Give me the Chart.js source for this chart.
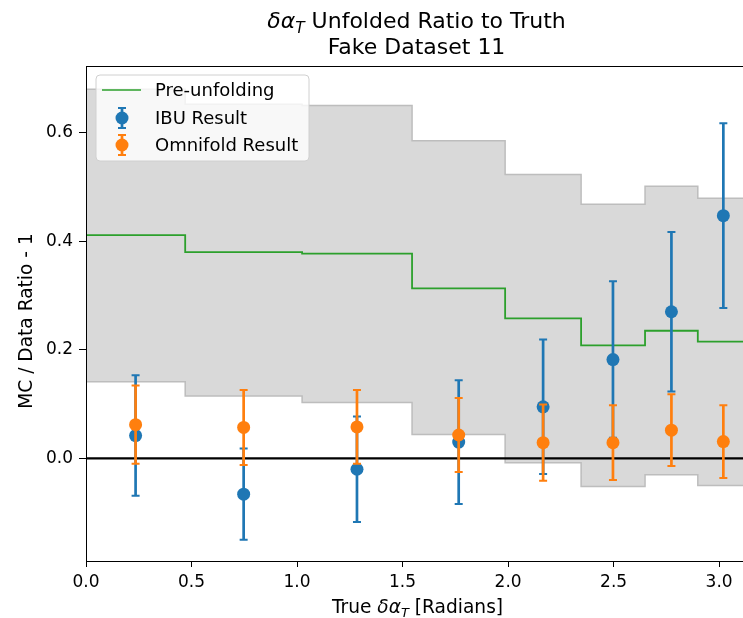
<!DOCTYPE html>
<html>
<head>
<meta charset="utf-8">
<script src="https://cdn.jsdelivr.net/npm/chart.js@4.4.0/dist/chart.umd.min.js"></script>
<style>
  html, body { margin: 0; padding: 0; background: #fff; overflow: hidden; }
  #wrap { position: relative; width: 760px; height: 618px; }
</style>
</head>
<body>
<div id="wrap"><canvas id="ratioChart"></canvas></div>
<script>
// bin edges and centres (true delta alpha_T, radians)
const binEdges = [0, 0.47, 1.024, 1.545, 1.986, 2.346, 2.649, 2.899, Math.PI];
const binCenters = [0.235, 0.747, 1.284, 1.766, 2.166, 2.497, 2.774, 3.020];

// MC / data ratio - 1
const preUnfolding = [0.411, 0.380, 0.377, 0.313, 0.258, 0.208, 0.235, 0.215];
const bandUpper = [0.680, 0.652, 0.650, 0.585, 0.523, 0.468, 0.501, 0.479];
const bandLower = [0.141, 0.115, 0.103, 0.044, -0.008, -0.052, -0.030, -0.050];

const ibuValues = [0.042, -0.066, -0.020, 0.030, 0.095, 0.182, 0.270, 0.447];
const ibuErrors = [0.111, 0.084, 0.097, 0.114, 0.124, 0.144, 0.147, 0.170];
const omniValues = [0.062, 0.057, 0.058, 0.043, 0.029, 0.029, 0.052, 0.031];
const omniErrors = [0.072, 0.069, 0.068, 0.068, 0.070, 0.069, 0.066, 0.067];

const zeroLevel = 0;
const xTicks = [0.0, 0.5, 1.0, 1.5, 2.0, 2.5, 3.0];
const yTicks = [0.0, 0.2, 0.4, 0.6];
const yRange = [-0.189, 0.7226];

const FONT = '"DejaVu Sans", sans-serif';

// step helper: value of bin i held from edge i to edge i+1
function stepPoints(vals) {
    const pts = vals.map((v, i) => ({ x: binEdges[i], y: v }));
    pts.push({ x: binEdges[binEdges.length - 1], y: vals[vals.length - 1] });
    return pts;
}

// draws error bars under each dataset's markers
const errorBars = {
    id: 'errorBars',
    beforeDatasetDraw(chart, args) {
        const ds = chart.data.datasets[args.index];
        if (!ds.errors) return;
        const ctx = chart.ctx, xs = chart.scales.x, ys = chart.scales.y, a = chart.chartArea;
        ctx.save();
        ctx.beginPath();
        ctx.rect(a.left, a.top, a.right - a.left, a.bottom - a.top);
        ctx.clip();
        ctx.strokeStyle = ds.backgroundColor;
        ds.data.forEach((p, i) => {
            const x = xs.getPixelForValue(p.x);
            const yTop = ys.getPixelForValue(p.y + ds.errors[i]);
            const yBot = ys.getPixelForValue(p.y - ds.errors[i]);
            ctx.lineWidth = 2.7;
            ctx.beginPath();
            ctx.moveTo(x, yTop); ctx.lineTo(x, yBot);
            ctx.stroke();
            ctx.lineWidth = 2;
            ctx.beginPath();
            ctx.moveTo(x - 4, yTop); ctx.lineTo(x + 4, yTop);
            ctx.moveTo(x - 4, yBot); ctx.lineTo(x + 4, yBot);
            ctx.stroke();
        });
        ctx.restore();
    }
};

// mixed text pieces: [text, italic, subscript]
function drawRich(ctx, parts, cx, y, size) {
    const fontFor = p => (p[1] ? 'italic ' : '') + (p[2] ? size * 0.7 : size) + 'px ' + FONT;
    let total = 0;
    parts.forEach(p => { ctx.font = fontFor(p); total += ctx.measureText(p[0]).width; });
    let x = cx - total / 2;
    ctx.textAlign = 'left';
    ctx.textBaseline = 'alphabetic';
    parts.forEach(p => {
        ctx.font = fontFor(p);
        ctx.fillText(p[0], x, p[2] ? y + size * 0.22 : y);
        x += ctx.measureText(p[0]).width;
    });
}

const decorations = {
    id: 'decorations',
    afterDraw(chart) {
        const ctx = chart.ctx, a = chart.chartArea;
        const cx = (a.left + a.right) / 2;
        ctx.save();
        ctx.fillStyle = '#000';

        // frame (top / right)
        ctx.strokeStyle = '#000';
        ctx.lineWidth = 1;
        ctx.strokeRect(a.left + 0.5, a.top + 0.5, a.right - a.left, a.bottom - a.top);

        // title
        drawRich(ctx, [['δα', true, false], ['T', true, true], [' Unfolded Ratio to Truth', false, false]], cx - 1, 28, 22);
        drawRich(ctx, [['Fake Dataset 11', false, false]], cx - 1, 54, 22);

        // axis titles
        drawRich(ctx, [['True ', false, false], ['δα', true, false], ['T', true, true], [' [Radians]', false, false]], cx, 613, 18.6);
        ctx.save();
        ctx.translate(32, 321);
        ctx.rotate(-Math.PI / 2);
        drawRich(ctx, [['MC / Data Ratio - 1', false, false]], 0, 0, 18.6);
        ctx.restore();

        // legend
        const lx = 96, ly = 75, lw = 213, lh = 86;
        ctx.beginPath();
        ctx.roundRect(lx, ly, lw, lh, 4);
        ctx.fillStyle = 'rgba(255,255,255,0.8)';
        ctx.fill();
        ctx.strokeStyle = '#d0d0d0';
        ctx.lineWidth = 1;
        ctx.stroke();

        const ds = chart.data.datasets;
        const rows = [
            { label: ds[2].label, color: ds[2].borderColor, kind: 'line', y: 90 },
            { label: ds[4].label, color: ds[4].backgroundColor, kind: 'err', y: 118 },
            { label: ds[5].label, color: ds[5].backgroundColor, kind: 'err', y: 145 }
        ];
        rows.forEach(r => {
            ctx.strokeStyle = r.color;
            ctx.fillStyle = r.color;
            if (r.kind === 'line') {
                ctx.lineWidth = 1.5;
                ctx.beginPath();
                ctx.moveTo(102, r.y); ctx.lineTo(141, r.y);
                ctx.stroke();
            } else {
                const mx = 122;
                ctx.lineWidth = 2.7;
                ctx.beginPath();
                ctx.moveTo(mx, r.y - 10); ctx.lineTo(mx, r.y + 10);
                ctx.stroke();
                ctx.lineWidth = 2;
                ctx.beginPath();
                ctx.moveTo(mx - 4, r.y - 10); ctx.lineTo(mx + 4, r.y - 10);
                ctx.moveTo(mx - 4, r.y + 10); ctx.lineTo(mx + 4, r.y + 10);
                ctx.stroke();
                ctx.beginPath();
                ctx.arc(mx, r.y, 6.5, 0, Math.PI * 2);
                ctx.fill();
            }
            ctx.fillStyle = '#000';
            ctx.font = '18px ' + FONT;
            ctx.textAlign = 'left';
            ctx.textBaseline = 'middle';
            ctx.fillText(r.label, 155, r.y + 1);
        });
        ctx.restore();
    }
};

Chart.defaults.color = '#000';
Chart.defaults.font.family = FONT;

new Chart(document.getElementById('ratioChart'), {
    type: 'line',
    data: {
        datasets: [
            {
                label: 'band upper',
                data: stepPoints(bandUpper),
                stepped: 'before',
                borderColor: '#bdbdbd',
                borderWidth: 1.5,
                backgroundColor: '#d9d9d9',
                fill: '+1',
                pointRadius: 0,
                order: 6
            },
            {
                label: 'band lower',
                data: stepPoints(bandLower),
                stepped: 'before',
                borderColor: '#bdbdbd',
                borderWidth: 1.5,
                fill: false,
                pointRadius: 0,
                order: 5
            },
            {
                label: 'Pre-unfolding',
                data: stepPoints(preUnfolding),
                stepped: 'before',
                borderColor: '#2ca02c',
                borderWidth: 1.8,
                fill: false,
                pointRadius: 0,
                order: 4
            },
            {
                label: 'zero',
                data: [{ x: binEdges[0], y: zeroLevel }, { x: binEdges[binEdges.length - 1], y: zeroLevel }],
                borderColor: '#000',
                borderWidth: 2.2,
                fill: false,
                pointRadius: 0,
                order: 3
            },
            {
                label: 'IBU Result',
                data: binCenters.map((x, i) => ({ x: x, y: ibuValues[i] })),
                errors: ibuErrors,
                showLine: false,
                backgroundColor: '#1f77b4',
                borderColor: '#1f77b4',
                pointRadius: 6.5,
                pointBorderWidth: 0,
                order: 2
            },
            {
                label: 'Omnifold Result',
                data: binCenters.map((x, i) => ({ x: x, y: omniValues[i] })),
                errors: omniErrors,
                showLine: false,
                backgroundColor: '#ff7f0e',
                borderColor: '#ff7f0e',
                pointRadius: 6.5,
                pointBorderWidth: 0,
                order: 1
            }
        ]
    },
    options: {
        responsive: true,
        maintainAspectRatio: false,
        animation: false,
        layout: { padding: { top: 66, right: 11, left: 0, bottom: 0 } },
        plugins: {
            legend: { display: false },
            title: { display: false },
            tooltip: { enabled: false }
        },
        scales: {
            x: {
                type: 'linear',
                min: binEdges[0],
                max: binEdges[binEdges.length - 1],
                afterBuildTicks: s => { s.ticks = xTicks.map(v => ({ value: v })); },
                afterFit: s => { s.height = 57; },
                ticks: { font: { size: 17 }, padding: 5, callback: v => v.toFixed(1) },
                grid: { drawOnChartArea: false, tickLength: 6, tickColor: '#000', tickWidth: 1 },
                border: { color: '#000', width: 1 }
            },
            y: {
                type: 'linear',
                min: yRange[0],
                max: yRange[1],
                afterBuildTicks: s => { s.ticks = yTicks.map(v => ({ value: v })); },
                afterFit: s => { s.width = 86; },
                ticks: { font: { size: 17 }, padding: 6, callback: v => v.toFixed(1) },
                grid: { drawOnChartArea: false, tickLength: 7, tickColor: '#000', tickWidth: 1 },
                border: { color: '#000', width: 1 }
            }
        }
    },
    plugins: [errorBars, decorations]
});
</script>
</body>
</html>
